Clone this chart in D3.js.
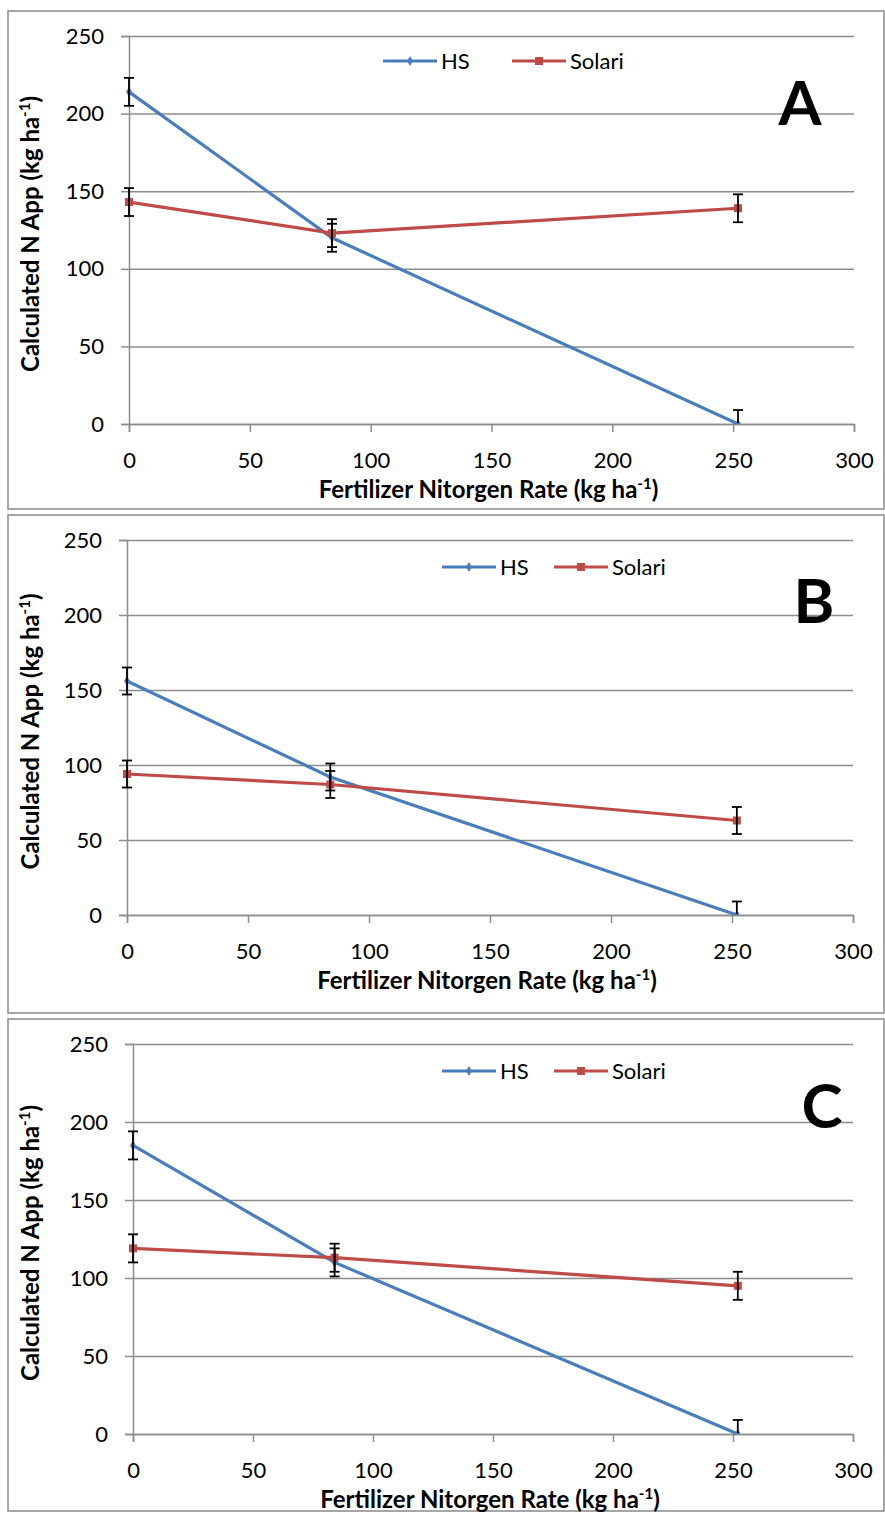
<!DOCTYPE html>
<html><head><meta charset="utf-8">
<script src="https://cdn.jsdelivr.net/npm/d3@7"></script>
<style>body{margin:0;background:#fff}svg{display:block}text{font-family:Lato,"Open Sans",sans-serif}</style>
</head><body>
<svg id="c" width="885" height="1513"></svg>
<script>
const xRates = [0, 84, 252];
const xTicks = [0, 50, 100, 150, 200, 250, 300];
const yTicks = [0, 50, 100, 150, 200, 250];
const seriesNames = ["HS", "Solari"];
const panelLabels = ["A", "B", "C"];
const hsA = [214, 120, 0];
const solariA = [143, 123, 139];
const hsB = [156, 92, 0];
const solariB = [94, 87, 63];
const hsC = [185, 110, 0];
const solariC = [119, 113, 95];
const errA = [[9, 9, 9], [9, 9, 9]];
const errB = [[9, 9, 9], [9, 9, 9]];
const errC = [[9, 9, 9], [9, 9, 9]];

const colors = ["#4A7EBB", "#BE4B48"];
const layout = [
  {box:[8, 11, 884, 509], l:129, r:854, t:36, b:424, leg:[383, 61, 512], lab:[800, 125]},
  {box:[8, 515, 884, 1013], l:127, r:853, t:540, b:915, leg:[442, 567, 554], lab:[814, 623]},
  {box:[8, 1019, 884, 1511], l:133, r:853, t:1044, b:1434, leg:[442, 1071, 554], lab:[822, 1128]}
];
const panelData = [
  {hs: hsA, so: solariA, err: errA},
  {hs: hsB, so: solariB, err: errB},
  {hs: hsC, so: solariC, err: errC}
];
const svg = d3.select("#c");
const grid = "#8C8C8C";

panelData.forEach((pd, i) => {
  const L = layout[i];
  const g = svg.append("g");
  g.append("rect").attr("x", L.box[0]).attr("y", L.box[1])
    .attr("width", L.box[2] - L.box[0]).attr("height", L.box[3] - L.box[1])
    .attr("fill", "#fff").attr("stroke", "#898989").attr("stroke-width", 1.5);
  const x = d3.scaleLinear().domain([0, 300]).range([L.l, L.r]);
  const y = d3.scaleLinear().domain([0, 250]).range([L.b, L.t]);
  const clipId = "clip" + i;
  g.append("clipPath").attr("id", clipId).append("rect")
    .attr("x", L.l - 20).attr("y", L.t - 20).attr("width", L.r - L.l + 40).attr("height", L.b - L.t + 20);

  const ya = g.append("g").attr("transform", `translate(${L.l},0)`)
    .call(d3.axisLeft(y).tickValues(yTicks).tickSize(8).tickPadding(17));
  ya.select(".domain").attr("stroke", grid).attr("stroke-width", 1.5);
  ya.selectAll(".tick line").attr("stroke", grid).attr("stroke-width", 1.5)
    .attr("x2", -8).clone().attr("x2", L.r - L.l).attr("x1", 0);
  ya.selectAll("text").attr("font-size", 22).attr("fill", "#000");
  ya.attr("font-family", null).attr("font-size", null);

  const xa = g.append("g").attr("transform", `translate(0,${L.b})`)
    .call(d3.axisBottom(x).tickValues(xTicks).tickSize(8).tickPadding(20));
  xa.select(".domain").attr("stroke", grid).attr("stroke-width", 1.5);
  xa.selectAll(".tick line").attr("stroke", grid).attr("stroke-width", 1.5);
  xa.selectAll("text").attr("font-size", 22).attr("fill", "#000");
  xa.attr("font-family", null).attr("font-size", null);

  const yt = g.append("text").attr("transform", `translate(39,${(L.t + L.b) / 2 + 4}) rotate(-90)`)
    .attr("text-anchor", "middle").attr("font-size", 24).attr("font-weight", "bold");
  yt.append("tspan").text("Calculated N App (kg ha");
  yt.append("tspan").attr("dy", -9).attr("font-size", 15).text("-1");
  yt.append("tspan").attr("dy", 9).text(")");
  const xt = g.append("text").attr("x", (L.l + L.r) / 2 - 3).attr("y", L.b + 74)
    .attr("text-anchor", "middle").attr("font-size", 24).attr("font-weight", "bold");
  xt.append("tspan").text("Fertilizer Nitorgen Rate (kg ha");
  xt.append("tspan").attr("dy", -9).attr("font-size", 15).text("-1");
  xt.append("tspan").attr("dy", 9).text(")");

  const plot = g.append("g").attr("clip-path", `url(#${clipId})`);
  const line = d3.line().x((d, j) => x(xRates[j])).y(d => y(d));
  [pd.hs, pd.so].forEach((vals, s) => {
    plot.append("path").datum(vals).attr("d", line).attr("fill", "none")
      .attr("stroke", colors[s]).attr("stroke-width", 3.2);
    vals.forEach((v, j) => {
      if (s === 0) {
        plot.append("path").attr("d", d3.symbol(d3.symbolDiamond, 30)())
          .attr("transform", `translate(${x(xRates[j])},${y(v)})`).attr("fill", colors[s]);
      } else {
        plot.append("rect").attr("x", x(xRates[j]) - 4).attr("y", y(v) - 4)
          .attr("width", 8).attr("height", 8).attr("fill", colors[s]);
      }
    });
  });
  g.append("clipPath").attr("id", clipId + "e").append("rect")
    .attr("x", L.l - 20).attr("y", L.t - 20).attr("width", L.r - L.l + 40).attr("height", L.b - L.t + 19);
  const eb = g.append("g").attr("clip-path", `url(#${clipId}e)`);
  [pd.hs, pd.so].forEach((vals, s) => {
    vals.forEach((v, j) => {
      const e = pd.err[s][j];
      const cx = x(xRates[j]);
      const y1 = y(v + e), y2 = y(v - e);
      eb.append("line").attr("x1", cx).attr("x2", cx).attr("y1", y1).attr("y2", y2)
        .attr("stroke", "#000").attr("stroke-width", 1.8);
      [y1, y2].forEach(yy => eb.append("line").attr("x1", cx - 5).attr("x2", cx + 5)
        .attr("y1", yy).attr("y2", yy).attr("stroke", "#000").attr("stroke-width", 1.8));
    });
  });

  const lg = g.append("g");
  const lx = [L.leg[0], L.leg[2]];
  seriesNames.forEach((nm, s) => {
    const x0 = lx[s];
    lg.append("line").attr("x1", x0).attr("x2", x0 + 54).attr("y1", L.leg[1]).attr("y2", L.leg[1])
      .attr("stroke", colors[s]).attr("stroke-width", 3.2);
    if (s === 0) lg.append("path").attr("d", d3.symbol(d3.symbolDiamond, 30)())
      .attr("transform", `translate(${x0 + 27},${L.leg[1]})`).attr("fill", colors[s]);
    else lg.append("rect").attr("x", x0 + 23).attr("y", L.leg[1] - 4).attr("width", 8).attr("height", 8).attr("fill", colors[s]);
    lg.append("text").attr("x", x0 + 58).attr("y", L.leg[1] + 8).attr("font-size", 22).text(nm);
  });

  g.append("text").attr("x", L.lab[0]).attr("y", L.lab[1]).attr("text-anchor", "middle")
    .attr("font-size", 62).attr("font-weight", "bold").text(panelLabels[i]);
});
</script>
</body></html>
